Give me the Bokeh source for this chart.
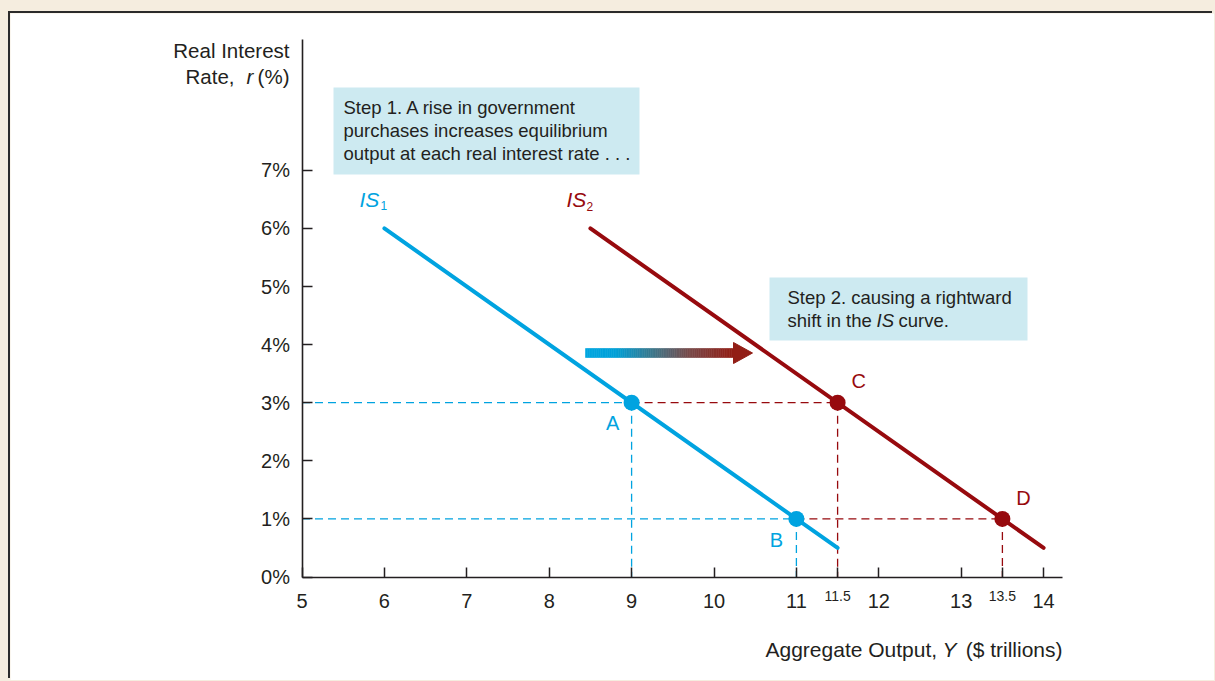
from bokeh.plotting import figure
from bokeh.models import Range1d, FixedTicker, Label, BoxAnnotation
from bokeh.embed import file_html
from bokeh.resources import INLINE

# ---------------- data ----------------
x_ticks = [5, 6, 7, 8, 9, 10, 11, 12, 13, 14]
x_tick_labels = ["5", "6", "7", "8", "9", "10", "11", "12", "13", "14"]
x_small_ticks = [11.5, 13.5]
x_small_labels = ["11.5", "13.5"]
y_ticks = [0, 1, 2, 3, 4, 5, 6, 7]
y_tick_labels = ["0%", "1%", "2%", "3%", "4%", "5%", "6%", "7%"]

is1_output = [6.0, 11.5]
is1_rate = [6.0, 0.5]
is2_output = [8.5, 14.0]
is2_rate = [6.0, 0.5]

pt_names = ["A", "B", "C", "D"]
pt_output = [9.0, 11.0, 11.5, 13.5]
pt_rate = [3.0, 1.0, 3.0, 1.0]
pt_curve = [1, 1, 2, 2]

# ---------------- styles / layout ----------------
INK = "#231f20"
BLUE = "#00a3e0"
RED = "#970a0e"
BOX = "#cdeaf1"
BG = "#f5eddf"
FONT = "Liberation Sans"

LEFT, TOP = 10, 13          # page position of the white panel (figure)
W, H = 1204, 667
XS, YS = 82.4, 58.1         # px per unit
X5_PX, R0_PX = 301.5, 576.5  # page px of x=5 and r=0
ADJ = 6.5                   # baseline correction for text labels

x_start = 5 - (X5_PX - LEFT) / XS
y_start = -((TOP + H) - R0_PX) / YS


def X(px):
    return 5 + (px - X5_PX) / XS


def Y(py):
    return (R0_PX - py) / YS


p = figure(width=W, height=H,
           x_range=Range1d(x_start, x_start + W / XS),
           y_range=Range1d(y_start, y_start + H / YS),
           output_backend="svg", toolbar_location=None,
           min_border_left=0, min_border_right=0, min_border_top=0, min_border_bottom=0)
p.styles = {"margin": f"{TOP}px 0 0 {LEFT}px", "box-shadow": "-2px -2px 0 0 #2b2b2b"}
p.grid.visible = False
p.outline_line_color = None
p.background_fill_color = "white"
p.border_fill_color = "white"

for ax in (p.xaxis[0], p.yaxis[0]):
    ax.axis_line_color = INK
    ax.axis_line_width = 1.6
    ax.major_tick_line_color = INK
    ax.major_tick_line_width = 1.5
    ax.major_tick_in = 10
    ax.major_tick_out = 0
    ax.minor_tick_line_color = None
    ax.major_label_text_font = FONT
    ax.major_label_text_font_size = "20px"
    ax.major_label_text_color = INK

p.xaxis.fixed_location = 0
p.xaxis.bounds = (5, X(1062))
p.xaxis.ticker = FixedTicker(ticks=x_ticks + x_small_ticks)
ov = {t: l for t, l in zip(x_ticks, x_tick_labels)}
for t in x_small_ticks:
    ov[t] = ""
p.xaxis.major_label_overrides = ov
p.xaxis.major_label_standoff = 17

p.yaxis.fixed_location = 5
p.yaxis.bounds = (0, Y(39))
p.yaxis.ticker = FixedTicker(ticks=y_ticks)
p.yaxis.major_label_overrides = {t: l for t, l in zip(y_ticks, y_tick_labels)}
p.yaxis.major_label_standoff = 12

for t, l in zip(x_small_ticks, x_small_labels):
    p.add_layout(Label(x=t, y=0, text=l, text_font=FONT, text_font_size="14px",
                       text_color=INK, text_align="center", text_baseline="alphabetic",
                       y_offset=-25 + ADJ))


def lab(px, py, text, size, color=INK, align="left", style="normal"):
    p.add_layout(Label(x=X(px), y=Y(py - ADJ), text=text, text_font=FONT,
                       text_font_size=f"{size}px", text_color=color, text_align=align,
                       text_font_style=style, text_baseline="alphabetic"))


# axis titles
lab(289, 56, "Real Interest", 20.5, align="right")
lab(234, 82, "Rate,", 20.5, align="right")
lab(246, 82, "r", 20.5, style="italic")
lab(289, 82, "(%)", 20.5, align="right")
lab(765, 655, "Aggregate Output,", 21)
lab(942, 655, "Y", 21, style="italic")
lab(1062, 655, "($ trillions)", 21, align="right")

# callout boxes
p.add_layout(BoxAnnotation(left=X(333), right=X(639), top=Y(87), bottom=Y(174),
                           fill_color=BOX, fill_alpha=1, line_color=None))
p.add_layout(BoxAnnotation(left=X(769), right=X(1027), top=Y(277), bottom=Y(340),
                           fill_color=BOX, fill_alpha=1, line_color=None))
lab(343, 113, "Step 1. A rise in government", 18.5)
lab(343, 136, "purchases increases equilibrium", 18.5)
lab(343, 159, "output at each real interest rate . . .", 18.5)
lab(787, 303, "Step 2. causing a rightward", 18.5)
lab(787, 326, "shift in the", 18.5)
lab(876, 326, "IS", 18.5, style="italic")
lab(898, 326, "curve.", 18.5)

# dashed guide lines
colors = {1: BLUE, 2: RED}
hx0, hx1, hy, hc = [], [], [], []
for i in range(len(pt_names)):
    if pt_curve[i] == 1:
        start = 5
    else:
        start = [pt_output[j] for j in range(len(pt_names))
                 if pt_curve[j] == 1 and pt_rate[j] == pt_rate[i]][0]
    hx0.append(start)
    hx1.append(pt_output[i])
    hy.append(pt_rate[i])
    hc.append(colors[pt_curve[i]])
p.segment(x0=hx0, y0=hy, x1=hx1, y1=hy, line_color=hc, line_width=1.3, line_dash="8 5")
p.segment(x0=pt_output, y0=pt_rate, x1=pt_output, y1=[0] * len(pt_output),
          line_color=[colors[c] for c in pt_curve], line_width=1.3, line_dash="8 5")

# IS curves
p.line(is1_output, is1_rate, line_color=BLUE, line_width=4, line_cap="round")
p.line(is2_output, is2_rate, line_color=RED, line_width=4, line_cap="round")

# equilibrium points
p.scatter(pt_output, pt_rate, size=16, fill_color=[colors[c] for c in pt_curve],
          line_color=None)

offs = {"A": (-19, -27), "B": (-20, -28), "C": (21, 15), "D": (21, 14)}
for n, xo, yr, c in zip(pt_names, pt_output, pt_rate, pt_curve):
    dx, dy = offs[n]
    p.add_layout(Label(x=xo, y=yr, text=n, text_font=FONT, text_font_size="20px",
                       text_color=colors[c], text_align="center",
                       text_baseline="alphabetic", x_offset=dx, y_offset=dy + ADJ))

# curve labels
lab(359, 205, "IS", 21, color=BLUE, style="italic")
lab(380, 211, "1", 12, color=BLUE)
lab(566, 205, "IS", 21, color=RED, style="italic")
lab(586, 212, "2", 12, color=RED)

# gradient arrow
AX0, AXB, AXT, AYC = X(585), X(733), X(752), Y(352.5)
half_body = Y(348) - AYC
half_head = Y(342) - AYC
stops = [(0.0, (0, 166, 224)), (0.2, (0, 160, 215)), (0.45, (60, 120, 140)),
         (0.7, (120, 75, 75)), (1.0, (146, 30, 22))]


def grad(t):
    for (t0, a), (t1, b) in zip(stops[:-1], stops[1:]):
        if t <= t1:
            f = (t - t0) / (t1 - t0)
            return "#%02x%02x%02x" % tuple(int(round(a[i] + (b[i] - a[i]) * f)) for i in range(3))
    return "#%02x%02x%02x" % stops[-1][1]


n = 80
lefts, rights, cols = [], [], []
for k in range(n):
    lefts.append(AX0 + (AXB - AX0) * k / n)
    rights.append(AX0 + (AXB - AX0) * (k + 1) / n)
    cols.append(grad(k / (n - 1)))
p.quad(left=lefts, right=rights, top=AYC + half_body, bottom=AYC - half_body,
       fill_color=cols, line_color=cols, line_width=0.6)
p.patch([AXB, AXT, AXB], [AYC + half_head, AYC, AYC - half_head],
        fill_color=cols[-1], line_color=cols[-1])

STYLE = "<style>html,body{background:" + BG + ";}</style></head>"
open("out.html", "w").write(file_html(p, INLINE).replace("</head>", STYLE, 1))
